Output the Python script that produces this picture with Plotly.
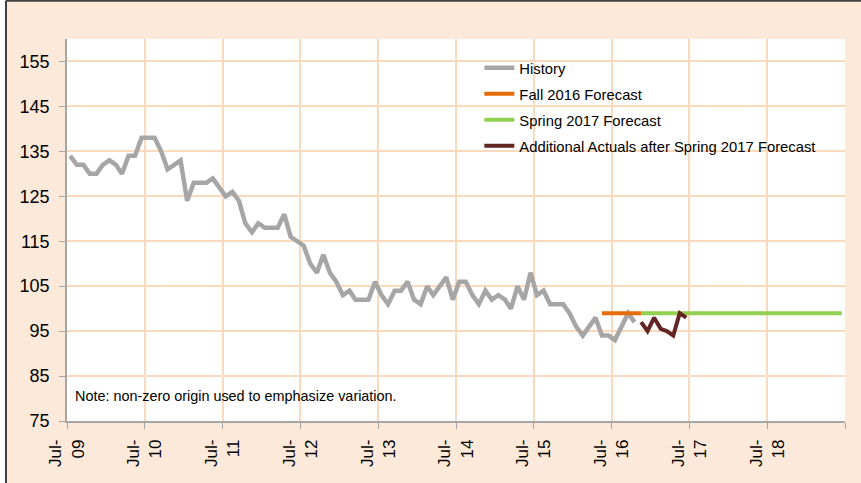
import pandas as pd
import plotly.graph_objects as go

# ---- data ----
history_start = "2009-07"
history = [134, 132, 132, 130, 130, 132, 133, 132, 130, 134, 134, 138,
           138, 138, 135, 131, 132, 133, 124, 128, 128, 128, 129, 127,
           125, 126, 124, 119, 117, 119, 118, 118, 118, 121, 116, 115,
           114, 110, 108, 112, 108, 106, 103, 104, 102, 102, 102, 106,
           103, 101, 104, 104, 106, 102, 101, 105, 103, 105, 107, 102,
           106, 106, 103, 101, 104, 102, 103, 102, 100, 105, 102, 108,
           103, 104, 101, 101, 101, 99, 96, 94, 96, 98, 94, 94,
           93, 96, 99, 97]
fall_start = "2016-05"
fall_2016 = [99, 99, 99, 99, 99, 99, 99]
spring_start = "2016-11"
spring_2017 = [99] * 32
actuals_start = "2016-11"
actuals = [97, 95, 98, 95.5, 95, 94, 99, 98]

year_ticks = ["2009-07-01", "2010-07-01", "2011-07-01", "2012-07-01", "2013-07-01",
              "2014-07-01", "2015-07-01", "2016-07-01", "2017-07-01", "2018-07-01",
              "2019-07-01"]
year_labels = ["Jul-<br>09", "Jul-<br>10", "Jul-<br>11", "Jul-<br>12", "Jul-<br>13",
               "Jul-<br>14", "Jul-<br>15", "Jul-<br>16", "Jul-<br>17", "Jul-<br>18", ""]
y_ticks = [75, 85, 95, 105, 115, 125, 135, 145, 155]
note_text = "Note: non-zero origin used to emphasize variation."


def months(start, n):
    # mid-month positions (category centres)
    return pd.date_range(start=start, periods=n, freq="MS") + pd.Timedelta(days=15)


PEACH = "#FDE9D9"
GRID = "#FBD9BC"
AXIS = "#A6A6A6"
FONT = "Liberation Sans, Arial, sans-serif"

fig = go.Figure()
fig.add_trace(go.Scatter(x=months(history_start, len(history)), y=history, mode="lines",
                         name="History", legendgroup="a",
                         line=dict(color="#A6A6A6", width=4.5)))
fig.add_trace(go.Scatter(x=months(fall_start, len(fall_2016)), y=fall_2016, mode="lines",
                         name="Fall 2016 Forecast", legendgroup="b",
                         line=dict(color="#E46C0A", width=4)))
fig.add_trace(go.Scatter(x=months(spring_start, len(spring_2017)), y=spring_2017, mode="lines",
                         name="Spring 2017 Forecast", legendgroup="c",
                         line=dict(color="#92D050", width=4)))
fig.add_trace(go.Scatter(x=months(actuals_start, len(actuals)), y=actuals, mode="lines",
                         name="Additional Actuals after Spring 2017 Forecast", legendgroup="d",
                         line=dict(color="#632523", width=4)))

fig.add_annotation(text=note_text, xref="paper", yref="y", x=0.008, y=80.6,
                   xanchor="left", yanchor="middle", showarrow=False,
                   font=dict(family=FONT, size=14.4, color="#000000"))

# outer frame: white strip on the left, dark border lines on left and top
fig.add_shape(type="rect", xref="paper", yref="paper", x0=-0.2, x1=-0.0784, y0=-0.3, y1=1.2,
              fillcolor="white", line=dict(width=0), layer="above")
fig.add_shape(type="line", xref="paper", yref="paper", x0=-0.0784, x1=-0.0784, y0=-0.3, y1=1.1,
              line=dict(color="#404040", width=2), layer="above")
fig.add_shape(type="line", xref="paper", yref="paper", x0=-0.0784, x1=1.2, y0=1.1, y1=1.1,
              line=dict(color="#404040", width=2), layer="above")

fig.update_layout(
    width=861, height=483,
    margin=dict(l=67, r=16, t=39, b=62, autoexpand=False),
    paper_bgcolor=PEACH, plot_bgcolor="white",
    font=dict(family=FONT, size=17, color="#000000"),
    showlegend=True,
    legend=dict(x=0.53, y=0.967, xanchor="left", yanchor="top",
                bgcolor="rgba(0,0,0,0)", borderwidth=0,
                font=dict(family=FONT, size=14.8, color="#000000"),
                traceorder="grouped", tracegroupgap=3.8),
    xaxis=dict(type="date", range=["2009-07-01", "2019-07-01"], automargin=False,
               tickmode="array", tickvals=year_ticks, ticktext=year_labels,
               tickangle=-90, ticks="outside", ticklen=6, tickcolor=AXIS, tickwidth=1,
               showline=True, linecolor=AXIS, linewidth=1.5,
               showgrid=True, gridcolor=GRID, gridwidth=1.5, zeroline=False,
               tickfont=dict(size=17), ticklabelstandoff=4),
    yaxis=dict(range=[75, 160], automargin=False, tickmode="array", tickvals=y_ticks,
               ticks="outside", ticklen=6, tickcolor=AXIS, tickwidth=1,
               showline=True, linecolor=AXIS, linewidth=1.5,
               showgrid=True, gridcolor=GRID, gridwidth=1.5, zeroline=False,
               tickfont=dict(size=18), ticklabelstandoff=6),
)

fig.write_html("out.html", config={"displayModeBar": False},
               post_script="document.body.style.margin='0';")
